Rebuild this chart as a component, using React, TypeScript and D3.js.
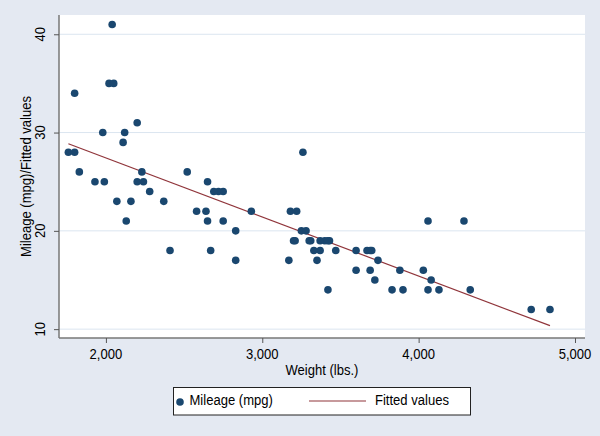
import React, { useEffect, useRef } from "react";
import * as d3 from "d3";

// auto data: weight (lbs.) and mileage (mpg)
const weight = [
  2930, 3350, 2640, 3250, 4080, 3670, 2230, 3280, 3880, 3400,
  4330, 3900, 4290, 2110, 3690, 3180, 3220, 2750, 3430, 2120,
  3600, 3600, 3740, 1800, 2650, 4840, 4720, 3830, 2580, 4060,
  3720, 3370, 4130, 2830, 4060, 3310, 3300, 3690, 3370, 2720,
  4030, 3260, 1800, 2200, 2520, 3330, 3700, 3470, 3210, 3200,
  3420, 2690, 2830, 2070, 2650, 2370, 2020, 2280, 2750, 2130,
  2240, 1760, 1980, 3420, 1830, 2050, 2410, 2200, 2670, 2160,
  2040, 1930, 1990, 3170,
];
const mpg = [
  22, 17, 22, 20, 15, 18, 26, 20, 16, 19,
  14, 14, 21, 29, 16, 22, 22, 24, 19, 30,
  18, 16, 17, 28, 21, 12, 12, 14, 22, 14,
  15, 18, 14, 20, 21, 19, 19, 18, 19, 24,
  16, 28, 34, 25, 26, 18, 18, 18, 19, 19,
  19, 24, 17, 23, 25, 23, 35, 24, 21, 21,
  25, 28, 30, 14, 26, 35, 18, 31, 18, 23,
  41, 25, 25, 17,
];
const xTicks = [2000, 3000, 4000, 5000];
const yTicks = [10, 20, 30, 40];
const legendLabels = ["Mileage (mpg)", "Fitted values"];

const W = 600;
const H = 436;
const font = "'Liberation Sans', Arial, sans-serif";
const fs = 15;
const sx = 0.87; // squeeze text to look like a narrow face
const navy = "#1a476f";
const maroon = "#90353b";

export default function App() {
  const svgRef = useRef<SVGSVGElement>(null);

  useEffect(() => {
    document.body.style.margin = "0";
    const svg = d3.select(svgRef.current);
    svg.selectAll("*").remove();

    const left = 59, right = 585, top = 15, bottom = 338;

    const x = d3.scaleLinear().domain([1700, 5064]).range([left, right]);
    const y = d3.scaleLinear().domain([9.1, 41.96]).range([bottom, top]);

    const label = (sel: any, tx: number, ty: number, rot: number, anchor: string, txt: string) =>
      sel.append("text")
        .attr("transform", `translate(${tx},${ty}) rotate(${rot}) scale(${sx},1)`)
        .attr("text-anchor", anchor).attr("font-family", font).attr("font-size", fs)
        .attr("fill", "#000").text(txt);

    svg.append("rect").attr("width", W).attr("height", H).attr("fill", "#e4e9f2");
    svg.append("rect")
      .attr("x", left).attr("y", top)
      .attr("width", right - left).attr("height", bottom - top)
      .attr("fill", "white");

    // grid
    svg.append("g").selectAll("line").data(yTicks).join("line")
      .attr("x1", left).attr("x2", right)
      .attr("y1", d => y(d)).attr("y2", d => y(d))
      .attr("stroke", "#dbe5f0").attr("stroke-width", 1);

    // axes
    const xAxis = d3.axisBottom(x).tickValues(xTicks).tickSize(5).tickFormat(() => "");
    const gx = svg.append("g").attr("transform", `translate(0,${bottom})`).call(xAxis);
    gx.select(".domain").attr("stroke", "#777").attr("stroke-width", 1.5)
      .attr("d", `M${left},0H${right}`);
    gx.selectAll(".tick line").attr("stroke", "#555");
    xTicks.forEach(t => label(svg, x(t), 358.5, 0, "middle", d3.format(",")(t)));

    const yAxis = d3.axisLeft(y).tickValues(yTicks).tickSize(5).tickFormat(() => "");
    const gy = svg.append("g").attr("transform", `translate(${left},0)`).call(yAxis);
    gy.select(".domain").attr("stroke", "#777").attr("stroke-width", 1.5)
      .attr("d", `M0,${top}V${bottom}`);
    gy.selectAll(".tick line").attr("stroke", "#555");
    yTicks.forEach(t => label(svg, 45, y(t), -90, "middle", String(t)));

    // axis titles
    label(svg, (left + right) / 2, 374.5, 0, "middle", "Weight (lbs.)");
    label(svg, 30.5, (top + bottom) / 2, -90, "middle", "Mileage (mpg)/Fitted values");

    // least squares fit
    const mx = d3.mean(weight)!;
    const my = d3.mean(mpg)!;
    const b = d3.sum(weight, (w, i) => (w - mx) * (mpg[i] - my)) / d3.sum(weight, w => (w - mx) ** 2);
    const a = my - b * mx;
    const ext = d3.extent(weight) as [number, number];
    svg.append("path")
      .datum(ext)
      .attr("d", d3.line<number>().x(d => x(d)).y(d => y(a + b * d)))
      .attr("fill", "none").attr("stroke", maroon).attr("stroke-width", 1.2);

    // points
    svg.append("g").selectAll("circle").data(weight).join("circle")
      .attr("cx", d => x(d)).attr("cy", (d, i) => y(mpg[i]))
      .attr("r", 3.8).attr("fill", navy);

    // legend
    const lg = svg.append("g");
    lg.append("rect").attr("x", 173.5).attr("y", 387.5).attr("width", 297).attr("height", 27.5)
      .attr("fill", "white").attr("stroke", "#222").attr("stroke-width", 1);
    lg.append("circle").attr("cx", 180).attr("cy", 402).attr("r", 3.8).attr("fill", navy);
    label(lg, 189.5, 404.5, 0, "start", legendLabels[0]);
    lg.append("line").attr("x1", 309).attr("x2", 366).attr("y1", 401).attr("y2", 401)
      .attr("stroke", maroon).attr("stroke-width", 1.2);
    label(lg, 375, 404.5, 0, "start", legendLabels[1]);
  }, []);

  return <svg ref={svgRef} width={W} height={H} style={{ display: "block" }} />;
}
